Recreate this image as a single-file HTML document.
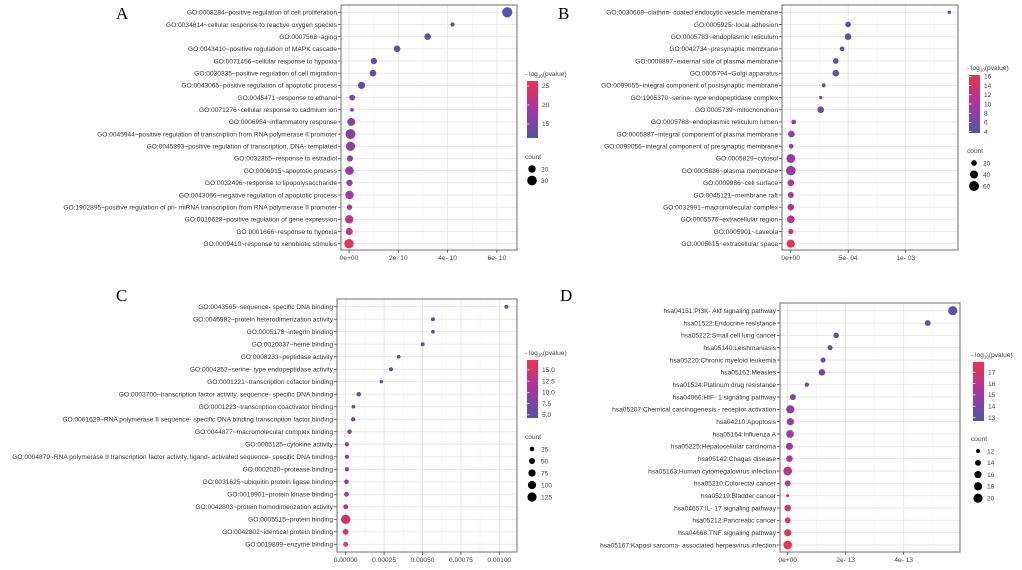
<!DOCTYPE html>
<html><head><meta charset="utf-8">
<style>
html,body{margin:0;padding:0;background:#fff;}
svg{display:block;font-family:"Liberation Sans",sans-serif;}
.lbl{font-size:6.6px;fill:#333;}
.tick{font-size:6.6px;fill:#444;}
.panel-letter{font-family:"Liberation Serif",serif;font-size:17px;fill:#000;}
</style></head>
<body>
<svg id="chart" width="1022" height="570" viewBox="0 0 1022 570">
<defs>
<linearGradient id="cbar" x1="0" y1="1" x2="0" y2="0">
<stop offset="0" stop-color="rgb(80,85,165)"/>
<stop offset="0.5" stop-color="rgb(165,55,160)"/>
<stop offset="1" stop-color="rgb(238,50,78)"/>
</linearGradient>
</defs>
<text class="panel-letter" x="116" y="19">A</text>
<text class="panel-letter" x="558" y="19">B</text>
<text class="panel-letter" x="116" y="301">C</text>
<text class="panel-letter" x="560" y="301">D</text>
</svg>
<script>
// ---------- Panel A data ----------
const termsA = ["GO:0008284~positive regulation of cell proliferation","GO:0034614~cellular response to reactive oxygen species","GO:0007568~aging","GO:0043410~positive regulation of MAPK cascade","GO:0071456~cellular response to hypoxia","GO:0030335~positive regulation of cell migration","GO:0043065~positive regulation of apoptotic process","GO:0045471~response to ethanol","GO:0071276~cellular response to cadmium ion","GO:0006954~inflammatory response","GO:0045944~positive regulation of transcription from RNA polymerase II promoter","GO:0045893~positive regulation of transcription, DNA- templated","GO:0032355~response to estradiol","GO:0006915~apoptotic process","GO:0032496~response to lipopolysaccharide","GO:0043066~negative regulation of apoptotic process","GO:1902895~positive regulation of pri- miRNA transcription from RNA polymerase II promoter","GO:0010628~positive regulation of gene expression","GO:0001666~response to hypoxia","GO:0009410~response to xenobiotic stimulus"];
const xA = [6.42,4.2,3.19,1.95,1.01,0.97,0.51,0.13,0.12,0.09,0.06,0.06,0.04,0.02,0.02,0.02,0.02,0.01,0.01,0.0];
const countA = [33,10,17,17,16,17,19,14,9,22,32,28,15,25,16,24,13,24,19,29];
const logpA = [11.5,12,12.5,13,13.5,13.5,14,15,15,15.5,16,16.5,17,17.5,18,19,19.5,21,22,26];
const tickValsA = [0,2,4,6];
const tickLabsA = ["0e+00","2e- 10","4e- 10","6e- 10"];
const colorTicksA = [15,20,25];
const sizeTicksA = [20,30];

// ---------- Panel B data ----------
const termsB = ["GO:0030669~clathrin- coated endocytic vesicle membrane","GO:0005925~focal adhesion","GO:0005783~endoplasmic reticulum","GO:0042734~presynaptic membrane","GO:0009897~external side of plasma membrane","GO:0005794~Golgi apparatus","GO:0099055~integral component of postsynaptic membrane","GO:1905370~serine- type endopeptidase complex","GO:0005739~mitochondrion","GO:0005788~endoplasmic reticulum lumen","GO:0005887~integral component of plasma membrane","GO:0099056~integral component of presynaptic membrane","GO:0005829~cytosol","GO:0005886~plasma membrane","GO:0009986~cell surface","GO:0045121~membrane raft","GO:0032991~macromolecular complex","GO:0005576~extracellular region","GO:0005901~caveola","GO:0005615~extracellular space"];
const xB = [13.79,4.99,4.99,4.47,3.92,3.92,2.87,2.61,2.61,0.26,0.06,0.04,0.01,0.01,0.01,0.01,0.01,0.01,0.01,0.0];
const countB = [8,20,27,14,20,27,10,8,27,14,27,14,48,56,27,23,27,36,17,41];
const logpB = [4,4.5,4.5,5,5,5.5,5.5,5.5,6,7,8,8,9,9,10,10.5,11,12,13,16];
const tickValsB = [0,5,10];
const tickLabsB = ["0e+00","5e- 04","1e- 03"];
const colorTicksB = [4,6,8,10,12,14,16];
const sizeTicksB = [20,40,60];

// ---------- Panel C data ----------
const termsC = ["GO:0043565~sequence- specific DNA binding","GO:0046982~protein heterodimerization activity","GO:0005178~integrin binding","GO:0020037~heme binding","GO:0008233~peptidase activity","GO:0004252~serine- type endopeptidase activity","GO:0001221~transcription cofactor binding","GO:0003700~transcription factor activity, sequence- specific DNA binding","GO:0001223~transcription coactivator binding","GO:0061629~RNA polymerase II sequence- specific DNA binding transcription factor binding","GO:0044877~macromolecular complex binding","GO:0005125~cytokine activity","GO:0004879~RNA polymerase II transcription factor activity, ligand- activated sequence- specific DNA binding","GO:0002020~protease binding","GO:0031625~ubiquitin protein ligase binding","GO:0019901~protein kinase binding","GO:0042803~protein homodimerization activity","GO:0005515~protein binding","GO:0042802~identical protein binding","GO:0019899~enzyme binding"];
const xC = [10.46,5.68,5.68,5.01,3.45,2.95,2.32,0.85,0.5,0.48,0.25,0.08,0.08,0.08,0.05,0.05,0.0,0.0,0.0,0.0];
const countC = [18,18,15,18,15,18,12,26,15,22,26,22,22,22,26,30,30,130,45,30];
const logpC = [5,5,5,5.5,5.5,6,6,6.5,6.5,7,7.5,8,8.5,9,9.5,10,11,15,15.5,16];
const tickValsC = [0,2.5,5,7.5,10];
const tickLabsC = ["0.00000","0.00025","0.00050","0.00075","0.00100"];
const colorTicksC = [5,7.5,10,12.5,15];
const colorTickLabsC = ["5.0","7.5","10.0","12.5","15.0"];
const sizeTicksC = [25,50,75,100,125];

// ---------- Panel D data ----------
const termsD = ["hsa04151:PI3K- Akt signaling pathway","hsa01522:Endocrine resistance","hsa05222:Small cell lung cancer","hsa05140:Leishmaniasis","hsa05220:Chronic myeloid leukemia","hsa05162:Measles","hsa01524:Platinum drug resistance","hsa04066:HIF- 1 signaling pathway","hsa05207:Chemical carcinogenesis -  receptor activation","hsa04210:Apoptosis","hsa05164:Influenza A","hsa05225:Hepatocellular carcinoma","hsa05142:Chagas disease","hsa05163:Human cytomegalovirus infection","hsa05210:Colorectal cancer","hsa05219:Bladder cancer","hsa04657:IL- 17 signaling pathway","hsa05212:Pancreatic cancer","hsa04668:TNF signaling pathway","hsa05167:Kaposi sarcoma- associated herpesvirus infection"];
const xD = [56.9,48.3,16.7,14.6,12.2,11.8,6.6,1.8,0.9,0.9,0.8,0.6,0.6,0.0,0.0,0.0,0.0,0.0,0.0,0.0];
const countD = [20,14,13.5,13,13,15,12,14,18,16,17,16,15,19,14,11,15,14,16,19];
const logpD = [13,13.2,13.3,13.4,13.5,13.7,13.8,14,14.5,14.7,15,15.2,15.5,16,16.5,16.7,17,17.2,17.5,17.8];
const tickValsD = [0,20,40];
const tickLabsD = ["0e+00","2e- 13","4e- 13"];
const colorTicksD = [13,14,15,16,17];
const sizeTicksD = [12,14,16,18,20];

const NS = "http://www.w3.org/2000/svg";
const svg = document.getElementById("chart");
function mk(tag, attrs, parent){ const e=document.createElementNS(NS,tag); for(const k in attrs) e.setAttribute(k,attrs[k]); (parent||svg).appendChild(e); return e; }

const C0=[80,85,165], C1=[165,55,160], C2=[238,50,78];
function colorAt(t){ t=Math.max(0,Math.min(1,t)); let a,b,u; if(t<0.5){a=C0;b=C1;u=t/0.5;}else{a=C1;b=C2;u=(t-0.5)/0.5;} return "rgb("+a.map((v,i)=>Math.round(v+(b[i]-v)*u)).join(",")+")"; }

function panel(id, L){
  const g = mk("g",{});
  
  
  const n = L.terms.length;
  const xs = v => L.x0 + v*L.ppu;
  const ys = i => L.yFirst + i*(L.yLast-L.yFirst)/(n-1);
  const cs = v => colorAt((v-L.cmin)/(L.cmax-L.cmin));
  const rs = c => Math.sqrt(L.r2min + (c-L.smin)/(L.smax-L.smin)*(L.r2max-L.r2min));
  // panel background grid
  const bg = mk("rect",{x:L.left,y:L.top,width:L.right-L.left,height:L.bottom-L.top,fill:"#fff"},g);
  
  
  for(let k=0;k<L.ticks.length;k++){
    const v=L.ticks[k];
    const x=xs(v);
    const gl=mk("line",{x1:x,x2:x,y1:L.top,y2:L.bottom,stroke:"#e6e6e6","stroke-width":0.9},g);
    
    
    if(k<L.ticks.length-1||true){
      const step=(L.ticks[1]-L.ticks[0])/2;
      const mx=xs(v+step);
      if(mx<L.right){ const ml=mk("line",{x1:mx,x2:mx,y1:L.top,y2:L.bottom,stroke:"#f2f2f2","stroke-width":0.6},g);
        
         }
      const mx2=xs(v-step);
      if(k===0&&mx2>L.left){ const ml=mk("line",{x1:mx2,x2:mx2,y1:L.top,y2:L.bottom,stroke:"#f2f2f2","stroke-width":0.6},g);
        
         }
    }
  }
  for(let i=0;i<n;i++){
    const y=ys(i);
    const hl=mk("line",{x1:L.left,x2:L.right,y1:y,y2:y,stroke:"#e6e6e6","stroke-width":0.9},g);
    
    
    const tk=mk("line",{x1:L.left-3,x2:L.left,y1:y,y2:y,stroke:"#444","stroke-width":0.8},g);
    
    
    const t=mk("text",{x:L.left-4,y:y+2.3,"text-anchor":"end",class:"lbl"},g);
    t.textContent=L.terms[i];
    
    
  }
  const frame=mk("rect",{x:L.left,y:L.top,width:L.right-L.left,height:L.bottom-L.top,fill:"none",stroke:"#7a7a7a","stroke-width":1.1},g);
  
  
  for(let k=0;k<L.ticks.length;k++){
    const x=xs(L.ticks[k]);
    const tk=mk("line",{x1:x,x2:x,y1:L.bottom,y2:L.bottom+3,stroke:"#444","stroke-width":0.8},g);
    
    
    const t=mk("text",{x:x,y:L.bottom+10,"text-anchor":"middle",class:"tick"},g);
    t.textContent=L.tickLabs[k];
    
    
  }
  for(let i=0;i<n;i++){
    const c=mk("circle",{cx:xs(L.xv[i]),cy:ys(i),r:rs(L.counts[i]),fill:cs(L.logp[i])},g);
    
    
  }
  // color legend
  const lx=L.legX, cy0=L.cbTop, cy1=L.cbBot;
  const tt=mk("text",{x:lx-2,y:cy0-5,class:"tick"},g);
  tt.innerHTML='- log<tspan font-size="4.5" dy="1.5">10</tspan><tspan dy="-1.5">(pvalue)</tspan>';
  
  
  const cb=mk("rect",{x:lx,y:cy0,width:11,height:cy1-cy0,fill:"url(#cbar)"},g);
  
  
  const cy = v => cy1 - (v-L.cmin)/(L.cmax-L.cmin)*(cy1-cy0);
  for(let k=0;k<L.cticks.length;k++){
    const y=cy(L.cticks[k]);
    const t=mk("text",{x:lx+15,y:y+2.3,class:"tick"},g);
    t.textContent=L.ctickLabs?L.ctickLabs[k]:String(L.cticks[k]);
    
    
    const m=mk("line",{x1:lx,x2:lx+2.5,y1:y,y2:y,stroke:"#fff","stroke-width":0.7},g);
    
    
  }
  const st=mk("text",{x:lx-2,y:L.sTitle,class:"tick"},g);
  st.textContent="count";
  
  
  for(let k=0;k<L.sticks.length;k++){
    const y=L.sFirst+k*L.sStep;
    const c=mk("circle",{cx:lx+5,cy:y,r:rs(L.sticks[k]),fill:"#000"},g);
    
    
    const t=mk("text",{x:lx+14,y:y+2.3,class:"tick"},g);
    t.textContent=String(L.sticks[k]);
    
    
  }
}

panel("a",{terms:termsA,xv:xA,counts:countA,logp:logpA,ticks:tickValsA,tickLabs:tickLabsA,
  left:341,right:517,top:5,bottom:250,x0:349,ppu:24.65,yFirst:12.3,yLast:243.7,
  cmin:11.3,cmax:26.3,smin:9,smax:33,r2min:3.5,r2max:26,
  legX:516+11,cbTop:81,cbBot:138,cticks:colorTicksA,sTitle:159,sFirst:169,sStep:11.5,sticks:sizeTicksA});
panel("b",{terms:termsB,xv:xB,counts:countB,logp:logpB,ticks:tickValsB,tickLabs:tickLabsB,
  left:782,right:958,top:5,bottom:250,x0:790.7,ppu:11.5,yFirst:12.3,yLast:243.7,
  cmin:3.7,cmax:16.3,smin:8,smax:56,r2min:3,r2max:23,
  legX:969,cbTop:75,cbBot:133,cticks:colorTicksB,sTitle:153,sFirst:163,sStep:11.5,sticks:sizeTicksB});
panel("c",{terms:termsC,xv:xC,counts:countC,logp:logpC,ticks:tickValsC,tickLabs:tickLabsC,
  left:337,right:517,top:299,bottom:552,x0:345.7,ppu:15.36,yFirst:306.7,yLast:544.3,
  cmin:4.3,cmax:17.2,smin:12,smax:130,r2min:3,r2max:22,
  legX:527,cbTop:360,cbBot:418,cticks:colorTicksC,ctickLabs:colorTickLabsC,sTitle:439,sFirst:449,sStep:12,sticks:sizeTicksC});
panel("d",{terms:termsD,xv:xD,counts:countD,logp:logpD,ticks:tickValsD,tickLabs:tickLabsD,
  left:780,right:960,top:303,bottom:552,x0:787.7,ppu:2.9,yFirst:310.7,yLast:545,
  cmin:12.7,cmax:17.9,smin:11,smax:20,r2min:2.5,r2max:21,
  legX:973,cbTop:362,cbBot:421,cticks:colorTicksD,sTitle:441,sFirst:451,sStep:11.8,sticks:sizeTicksD});
</script>
</body></html>
